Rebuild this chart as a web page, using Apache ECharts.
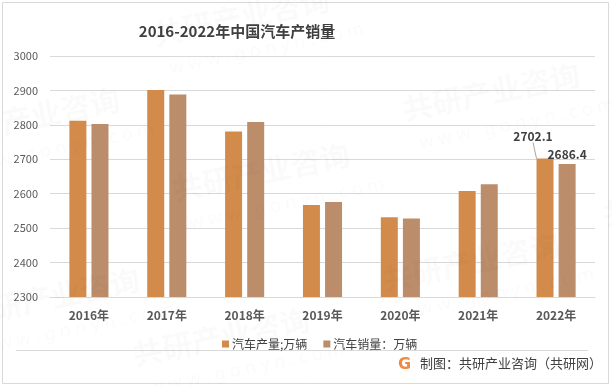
<!DOCTYPE html>
<html>
<head>
<meta charset="utf-8">
<script src="https://cdn.jsdelivr.net/npm/echarts@6/dist/echarts.min.js"></script>
<style>
html,body{margin:0;padding:0;background:#fff;}
#c{width:612px;height:386px;}
</style>
</head>
<body>
<div id="c"></div>
<script>
var categories = ['2016年','2017年','2018年','2019年','2020年','2021年','2022年'];
var production = [2811.9, 2901.5, 2780.9, 2567.0, 2532.0, 2608.2, 2702.1];
var sales = [2802.8, 2887.9, 2808.1, 2576.0, 2528.0, 2627.5, 2686.4];
var yTicks = [2300, 2400, 2500, 2600, 2700, 2800, 2900, 3000];
var seriesNames = ['汽车产量;万辆', '汽车销量：万辆'];

var chart = echarts.init(document.getElementById('c'), null, {renderer:'canvas'});
var FONT = '"Noto Sans CJK SC", "Noto Sans", sans-serif';
var lastIdx = categories.length - 1;

var wmText = [];
var wmPos = [[150,20],[400,95],[170,175],[640,40],[380,265],[130,340],[600,200],[-60,120],[-40,300],[610,330]];
wmPos.forEach(function(p){
  wmText.push({type:'text', x:p[0], y:p[1], rotation:0.2, z:100, silent:true,
    style:{text:'共研产业咨询', font:'bold 30px "Noto Sans CJK SC"', fill:'rgba(0,0,0,0.018)'}});
  wmText.push({type:'text', x:p[0]+18, y:p[1]+40, rotation:0.2, z:100, silent:true,
    style:{text:'w w w . g o n y n . c o m', font:'18px "Noto Sans"', fill:'rgba(0,0,0,0.018)'}});
});

var labelStyle = {show:true, position:'top', distance:4,
  fontFamily:FONT, fontSize:12, fontWeight:'bold', color:'#404040',
  formatter:function(p){ return p.value.toFixed(1); }};

function withLastLabel(arr, withLine){
  return arr.map(function(v,i){
    if(i !== lastIdx) return v;
    var item = {value:v, label:labelStyle};
    item.labelLine = {show:withLine, lineStyle:{color:'#a6a6a6', width:1}};
    return item;
  });
}

var option = {
  animation:false,
  backgroundColor:'#fff',
  title:{
    text:'2016-2022年中国汽车产销量',
    left:232, top:19, textAlign:'center',
    textStyle:{fontFamily:FONT, fontSize:15, fontWeight:'bold', color:'#404040'}
  },
  grid:{left:50, right:17, top:56, bottom:89, containLabel:false},
  legend:{
    data:seriesNames,
    left:217, top:333,
    itemWidth:7, itemHeight:7, itemGap:16,
    icon:'rect',
    textStyle:{fontFamily:FONT, fontSize:12, color:'#404040', padding:[0,0,0,-2]}
  },
  xAxis:{
    type:'category', data:categories,
    axisLine:{show:true, lineStyle:{color:'#d9d9d9', width:1}},
    axisTick:{show:false},
    axisLabel:{fontFamily:FONT, fontSize:12, fontWeight:'bold', color:'#595959', margin:12}
  },
  yAxis:{
    type:'value', min:yTicks[0], max:yTicks[yTicks.length-1], interval:100,
    axisLine:{show:false}, axisTick:{show:false},
    splitLine:{lineStyle:{color:'#d9d9d9', width:1}},
    axisLabel:{fontFamily:FONT, fontSize:11, color:'#595959', margin:12, formatter:function(v){return String(v);}}
  },
  series:[
    {
      name:seriesNames[0], type:'bar', barWidth:17, barGap:'30%',
      itemStyle:{color:'#D38B4C'},
      data:withLastLabel(production, true),
      label:{show:false},
      labelLine:{show:false},
      labelLayout:function(p){ return p.dataIndex === lastIdx ? {dx:-12, dy:-12} : null; }
    },
    {
      name:seriesNames[1], type:'bar', barWidth:17,
      itemStyle:{color:'#BC8D6B'},
      data:withLastLabel(sales, false),
      label:{show:false}
    }
  ],
  graphic:[
    {type:'rect', shape:{x:2.5, y:2.5, width:606, height:381}, style:{fill:null, stroke:'#d9d9d9', lineWidth:1}, silent:true},
    {type:'line', shape:{x1:16, y1:350.5, x2:588, y2:350.5}, style:{stroke:'#d9d9d9', lineWidth:1}, silent:true},
    {type:'text', x:398, y:357, style:{text:'G', font:'bold 16px "DejaVu Sans"', fill:'#f08a42'}, silent:true},
    {type:'text', x:420, y:357, style:{text:'制图：共研产业咨询（共研网）', font:'13px "Noto Sans CJK SC"', fill:'#404040'}, silent:true}
  ].concat(wmText)
};
chart.setOption(option);
</script>
</body>
</html>
